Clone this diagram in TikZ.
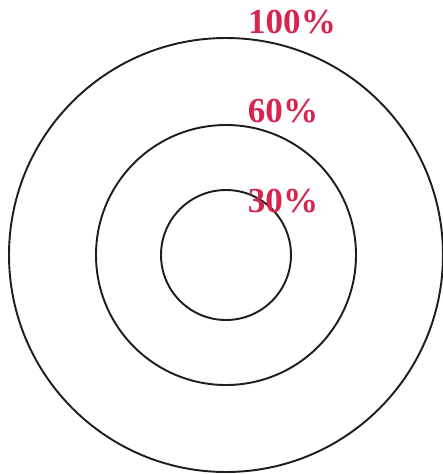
\documentclass[tikz,border=0pt]{standalone}
\usepackage{fontspec}
\setmainfont{Liberation Serif}
\usepackage{xcolor}
\usepackage{tikz}
\definecolor{ringred}{RGB}{214,38,80}
\definecolor{ringline}{RGB}{30,30,30}

\begin{document}
\begin{tikzpicture}[
    x=0.02cm, y=-0.02cm,
    ring/.style={draw=ringline, line width=1.1pt},
    pct/.style={text=ringred, font=\fontsize{20}{22}\selectfont\bfseries, inner sep=0pt}
  ]
    \useasboundingbox (0,0) rectangle (443,474);
    \coordinate (c) at (226,255);

    \draw[ring] (c) circle[radius=217];
    \draw[ring] (c) circle[radius=130];
    \draw[ring] (c) circle[radius=65];

    \node[pct] (outer) at (292,22) {100\%};
    \node[pct] (middle) at (283,111) {60\%};
    \node[pct] (inner) at (283,201) {30\%};
  \end{tikzpicture}
\end{document}
